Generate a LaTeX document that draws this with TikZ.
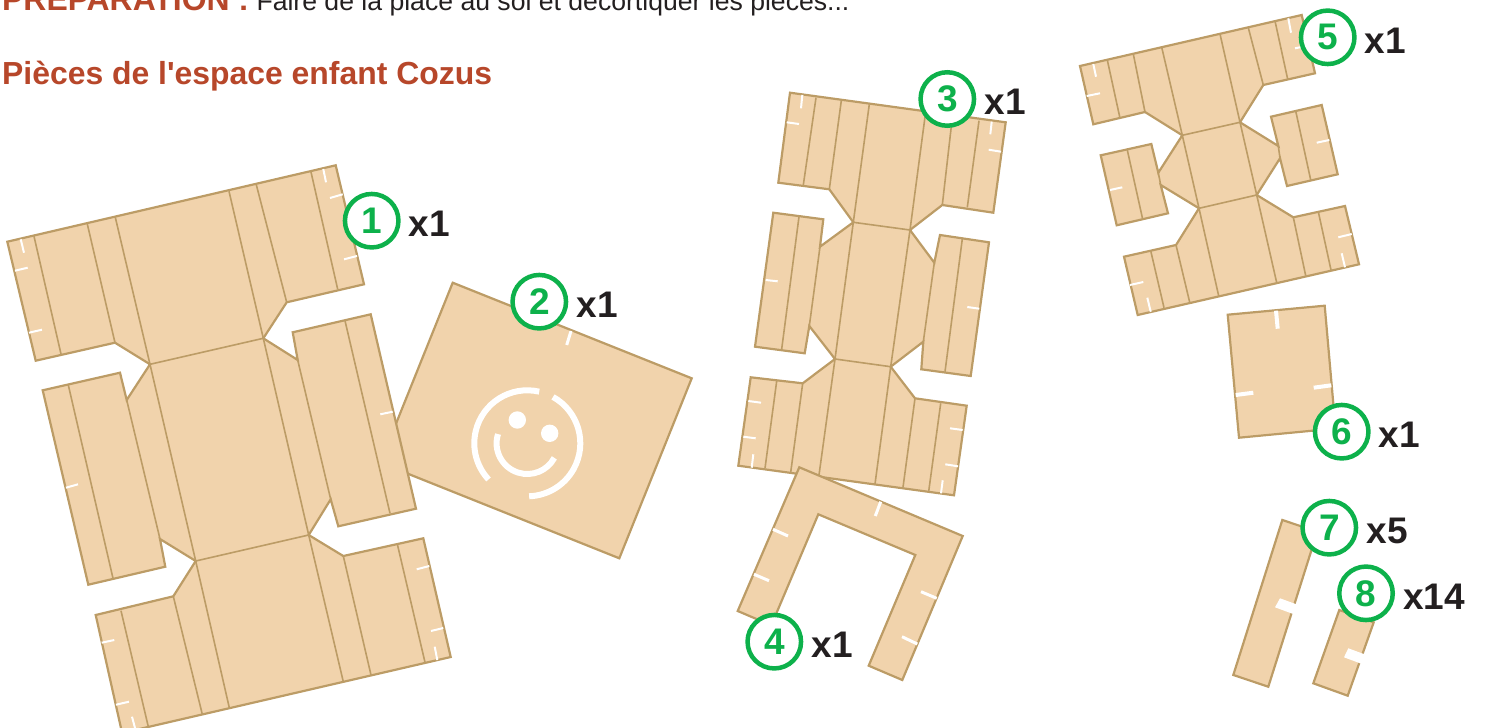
\documentclass[tikz,border=0pt]{standalone}
\usepackage{fontspec}
\setmainfont[Ligatures=TeXOff]{Liberation Sans}
\usetikzlibrary{positioning}
\definecolor{carton}{HTML}{F1D3AC}
\definecolor{cartonline}{HTML}{BC9C66}
\definecolor{numgreen}{HTML}{0DB14B}
\definecolor{titlered}{HTML}{B7472A}
\definecolor{inkdark}{HTML}{231F20}
\begin{document}
\begin{tikzpicture}[x=1pt, y=-1pt,
  piece/.style={draw=cartonline, fill=carton, line width=2.2pt, line join=miter},
  fold/.style={draw=cartonline, line width=1.6pt},
  nick/.style={draw=white, line width=2pt},
  widenick/.style={draw=white, line width=3pt},
  slot/.style={fill=white},
  smile/.style={draw=white, line width=6pt},
  numdisc/.style={circle, draw=numgreen, fill=white, line width=4.5pt, minimum size=53.5pt, inner sep=0pt,
    text=numgreen, font=\fontsize{37}{37}\selectfont\bfseries},
  qty/.style={right=8pt of #1, yshift=-3pt, inner sep=0pt, text=inkdark, font=\fontsize{37}{37}\selectfont\bfseries}]
\useasboundingbox (0,0) rectangle (1486,728);

% heading
\node[anchor=base west, inner sep=0pt, font=\fontsize{26.6}{26.6}\selectfont, text=inkdark] (intro) at (2,10)
  {\textcolor{titlered}{\fontsize{31.9}{31.9}\selectfont\bfseries PRÉPARATION :} Faire de la place au sol et décortiquer les pièces...};
\node[anchor=base west, inner sep=0pt, text=titlered, font=\fontsize{31.9}{31.9}\selectfont\bfseries] (title) at (2,84)
  {Pièces de l'espace enfant Cozus};

% piece 2
\draw[piece] (452.7,282.7) -- (691.7,378.3) -- (619.3,558.3) -- (380.3,462.7) -- cycle;
\draw[widenick] (571,331) -- (566.7,345);
\coordinate (face) at (527.3,443.3);
\draw[smile] (face) ++(-77:53) arc[start angle=-77, end angle=-223, radius=53];
\draw[smile] (face) ++(-61:53) arc[start angle=-61, end angle=88, radius=53];
\draw[smile] (face) ++(-162.5:30.7) arc[start angle=-162.5, end angle=-331.7, radius=30.7];
\fill[white] (517.3,420) circle[radius=8.7];
\fill[white] (549.7,433.3) circle[radius=8.7];

% piece 1
\draw[piece] (7.3,241.7) -- (335.7,165.3) -- (364,284.3) -- (286.7,302.3) -- (263.3,338.3) -- (297.7,360)
  -- (292.7,332.3) -- (370.7,314.3) -- (416,508.7) -- (338.3,526.3) -- (330.7,499.3) -- (308.7,535)
  -- (343.3,556) -- (423.3,538.3) -- (450.7,657) -- (122.1,733) -- (95.7,615) -- (173.3,596.3)
  -- (195.7,561) -- (160,539) -- (165.3,566.7) -- (88.3,584.7) -- (42.7,390.3) -- (120,372.7)
  -- (126.7,400) -- (150,364.3) -- (115,342.7) -- (35.7,360.7) -- cycle;
\draw[fold] (34,236.3) -- (61,354) (87.3,224) -- (115,342.7) (115.3,217.3) -- (150,364.3)
  (229,191.3) -- (263.3,338.3) (256.3,184.7) -- (286.7,302.3) (311,172) -- (337.7,289.3)
  (150,364.3) -- (263.3,338.3) (150,364.3) -- (195.7,561) (263.3,338.3) -- (308.7,535)
  (126.7,400) -- (160,539) (68.3,385) -- (113,578.3) (297.7,360) -- (330.7,499.3) (345,320.7) -- (390,513.3)
  (195.7,561) -- (308.7,535) (121,610.7) -- (148.3,726.7) (173.3,596.3) -- (202.3,714.3)
  (195.7,561) -- (229.3,707.7) (308.7,535) -- (343.3,681.7) (343.3,556) -- (371,675) (397.3,544) -- (425,662.3);
\draw[nick] (20.7,239.3) -- (24,252.7) (15,270.7) -- (27.7,267.7) (29,332.7) -- (42,329.7)
  (323.3,169) -- (326,182.3) (330,198) -- (342.7,194.3) (344,259.3) -- (357,256)
  (380.3,414.3) -- (392.7,411.7) (66,487.7) -- (78,484.3) (101.7,642.7) -- (114.3,640)
  (116,704.7) -- (129,701.7) (132,716.7) -- (135,728) (416.7,569.3) -- (429.3,566)
  (431,631) -- (443.3,628) (434.7,646.7) -- (437.3,660);

% piece 3
\draw[piece] (790,92.7) -- (1005.7,122.3) -- (993.3,212.7) -- (942.3,205) -- (910,230) -- (934.3,262.7)
  -- (940,235) -- (989,242.3) -- (970.7,376) -- (921.3,369.3) -- (923.3,341.7) -- (890.7,366.7)
  -- (915,398.3) -- (966.7,405.7) -- (954,495.3) -- (738.3,465.7) -- (750.7,377.3) -- (802.7,383.3)
  -- (835,359) -- (809.3,326) -- (804.7,353.3) -- (755,346.7) -- (773.3,212.7) -- (823.3,219.3)
  -- (820,246.7) -- (853.3,222.3) -- (829.3,189.3) -- (778.3,182.7) -- cycle;
\draw[fold] (816,97.7) -- (803.3,185) (841.3,100.7) -- (829.3,189.3) (869.3,104.3) -- (853.3,222.3)
  (925.7,111.7) -- (910,230) (952.3,117.7) -- (942.3,205) (979,120.7) -- (967.3,207.3)
  (853.3,222.3) -- (910,230) (835,359) -- (890.7,366.7) (853.3,222.3) -- (835,359) (910,230) -- (890.7,366.7)
  (820,246.7) -- (809.3,326) (934.3,262.7) -- (923.3,341.7) (799,216.7) -- (781.7,349) (962.3,239) -- (945,371.7)
  (776.7,381) -- (765,468.3) (802.7,383.3) -- (790.7,472.3) (835,359) -- (819,475) (890.7,366.7) -- (875,484)
  (915,398.3) -- (903,487.3) (940.7,403.3) -- (928.7,491.3);
\draw[nick] (802.3,95) -- (801,108.3) (786.7,122.3) -- (799,124) (991.7,121.7) -- (990.3,134.3)
  (988.7,149.7) -- (1001,151.7) (765.7,280) -- (777.7,281.3) (967.3,307) -- (979.3,308.7)
  (748.3,401) -- (761,402.7) (743.3,436.7) -- (755.7,438.3) (753.3,454.3) -- (751.7,467.7)
  (950,428.3) -- (962.7,430) (945.3,464.3) -- (958,466.3) (942.7,480.3) -- (941,493.3);

% piece 4
\draw[piece] (799.3,467.3) -- (962.7,536) -- (902.3,680) -- (868.7,665.7) -- (915.3,555) -- (818.3,514.3)
  -- (771.3,625.3) -- (737.7,611) -- cycle;
\draw[widenick] (880.7,501.7) -- (875.3,516) (773,529.3) -- (788,536) (754,574.3) -- (769,580.7)
  (921,591.7) -- (936.7,598.3) (902,636.7) -- (917.3,644);

% piece 5
\draw[piece] (1080,66) -- (1301.7,15) -- (1315,73.3) -- (1263.3,85) -- (1240,122.3) -- (1278.3,146)
  -- (1271,116.7) -- (1321.7,105) -- (1337.7,174.3) -- (1287,186) -- (1280,158.3) -- (1256.7,195)
  -- (1293.3,217.3) -- (1345,206) -- (1359,264.3) -- (1137.7,315) -- (1124,256.7) -- (1176,245)
  -- (1199,208.3) -- (1160.7,185) -- (1168,213.3) -- (1116.7,225.3) -- (1100.7,155.3) -- (1151.3,144)
  -- (1158.3,172.7) -- (1182.3,135.3) -- (1145,112) -- (1093.3,124.3) -- cycle;
\draw[fold] (1107.3,60) -- (1120,118.3) (1133.3,54) -- (1145,112) (1161.7,47.3) -- (1182.3,135.3)
  (1220,34) -- (1240,122.3) (1248.3,27.7) -- (1263.3,85) (1275,21) -- (1287.7,79.3)
  (1182.3,135.3) -- (1240,122.3) (1199,208.3) -- (1256.7,195) (1182.3,135.3) -- (1199,208.3) (1240,122.3) -- (1256.7,195)
  (1158.3,172.7) -- (1160.7,185) (1278.3,146) -- (1280,158.3) (1127.3,150) -- (1142.7,219.3) (1295.7,111) -- (1310.7,180)
  (1150.7,250.7) -- (1164,307.7) (1176,245) -- (1189.7,302.3) (1199,208.3) -- (1218.7,296) (1256.7,195) -- (1276.7,282.7)
  (1293.3,217.3) -- (1305.7,275.7) (1318.3,211.7) -- (1331,270);
\draw[nick] (1093.3,64) -- (1096,76.7) (1086.7,96) -- (1100,93.3) (1288.3,18.3) -- (1291,32.7)
  (1295,48.3) -- (1306.7,46) (1110,190) -- (1122.3,187.3) (1316.7,142.7) -- (1329.3,140)
  (1338.3,237.3) -- (1351.7,234) (1341.7,253.3) -- (1345,267.3) (1130,285) -- (1143.3,282) (1147.3,297.7) -- (1150.7,311.7);

% piece 6
\draw[piece] (1227.7,314.7) -- (1324.7,305.7) -- (1335.5,428.5) -- (1239,437.7) -- cycle;
\draw[widenick, line width=4pt] (1276,310.7) -- (1277.7,328.7) (1235.7,395) -- (1253.3,392.7) (1313.7,387.7) -- (1331.3,385.3);

% pieces 7 and 8
\draw[piece] (1282.3,520) -- (1317.3,531.7) -- (1268.3,686.7) -- (1233.3,675) -- cycle;
\fill[slot] (1275,607.3) -- (1280,598.3) -- (1298.3,605) -- (1294,614.3) -- cycle;
\draw[piece] (1339.3,610) -- (1373.7,622.3) -- (1347.7,695.7) -- (1313.3,683.3) -- cycle;
\fill[slot] (1344,657.3) -- (1348.3,648.3) -- (1366.5,655) -- (1362,664) -- cycle;

% numbers
\node[numdisc] (n1) at (371.7,220.7) {1};
\node[numdisc] (n2) at (539.3,301.7) {2};
\node[numdisc] (n3) at (947.3,99) {3};
\node[numdisc] (n4) at (774.3,641.7) {4};
\node[numdisc] (n5) at (1327.7,37.3) {5};
\node[numdisc] (n6) at (1341.7,431.7) {6};
\node[numdisc] (n7) at (1329.3,527.7) {7};
\node[numdisc] (n8) at (1366,593.3) {8};
\node[qty=n1] (q1) {x1};
\node[qty=n2] (q2) {x1};
\node[qty=n3] (q3) {x1};
\node[qty=n4] (q4) {x1};
\node[qty=n5] (q5) {x1};
\node[qty=n6] (q6) {x1};
\node[qty=n7] (q7) {x5};
\node[qty=n8] (q8) {x14};
\end{tikzpicture}
\end{document}
